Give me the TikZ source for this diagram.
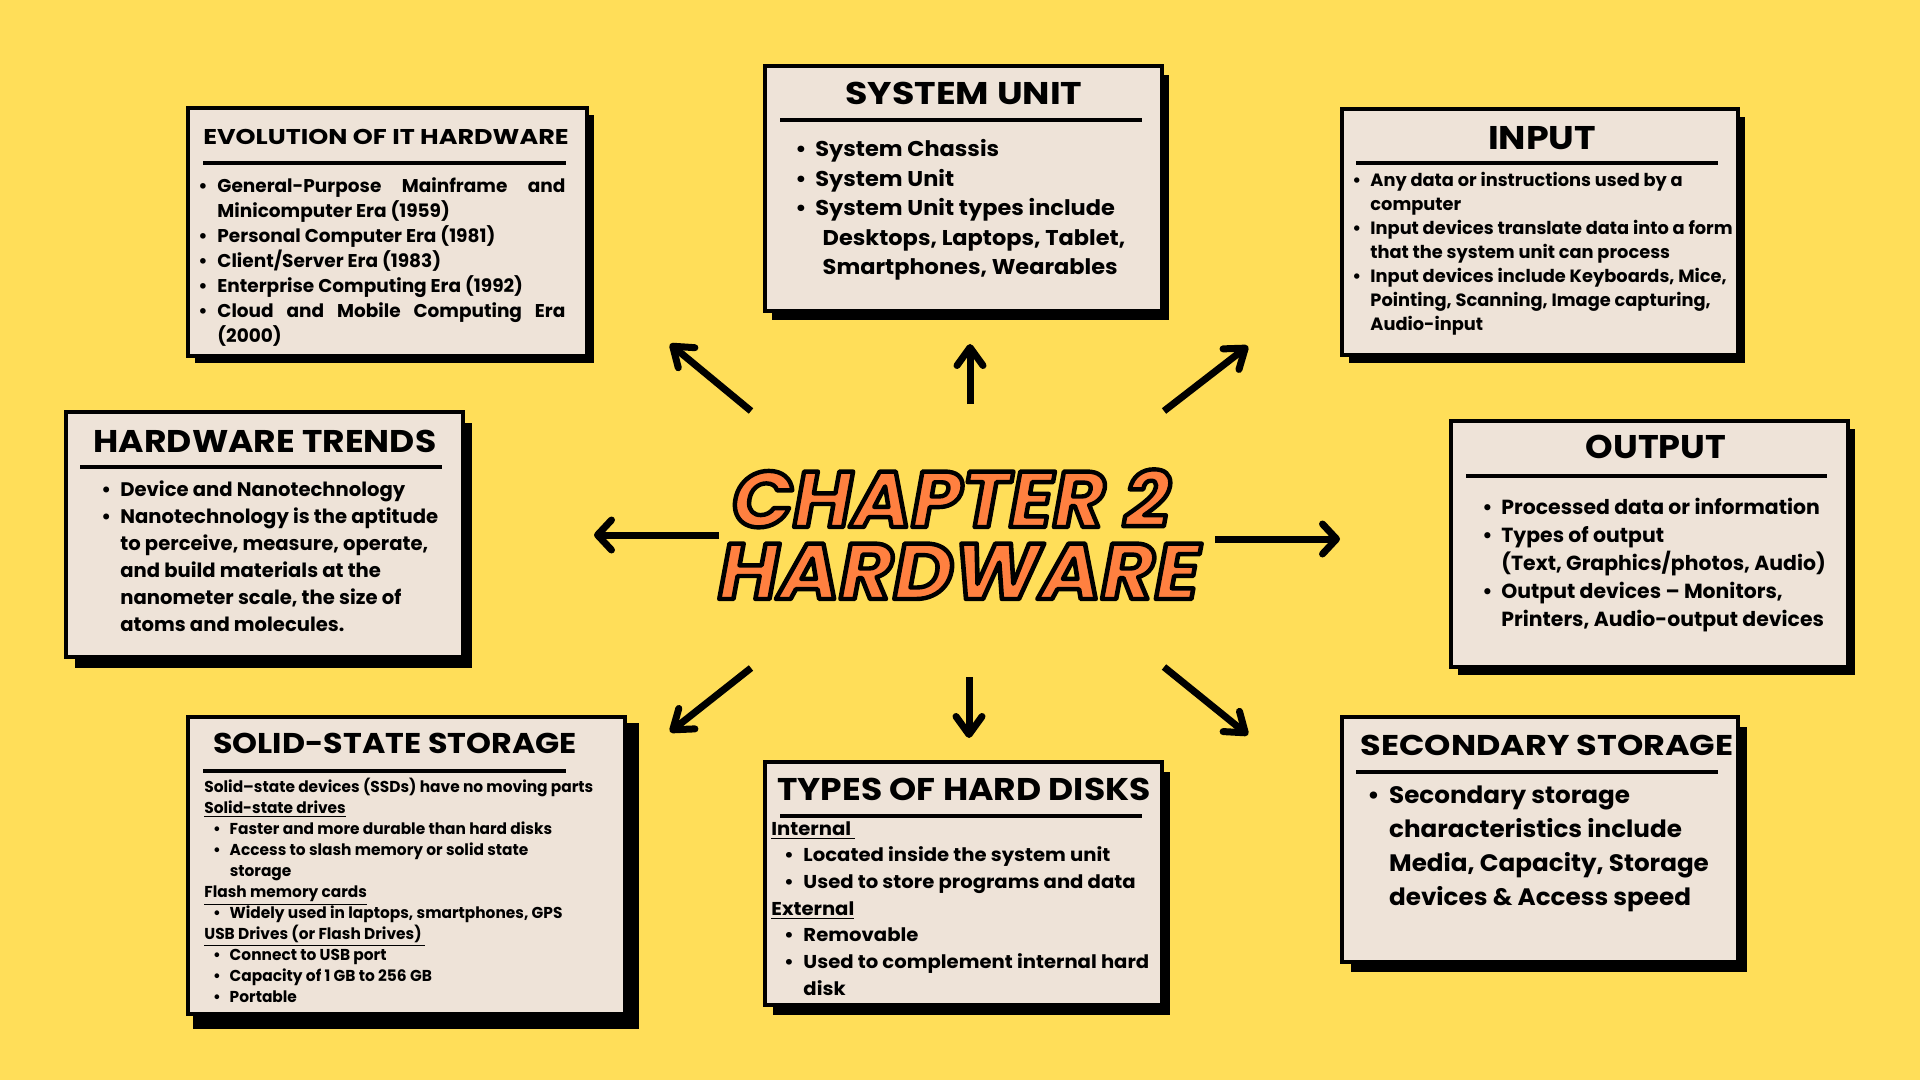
\documentclass[tikz,border=0pt]{standalone}
\usepackage{graphicx}
\usepackage{fontspec}
\setmainfont{Poppins}
\usetikzlibrary{arrows.meta,fit}

\definecolor{bgyellow}{RGB}{255,222,89}
\definecolor{panelfill}{RGB}{238,227,216}
\definecolor{titleorange}{RGB}{255,128,64}

% bullet item with hanging indent
\newcommand\bul[1]{\par\hangindent=#1\hangafter=1\noindent\makebox[#1][l]{\textbullet}}
% bullet item with the bullet pushed in by #1, text at #2
\newcommand\ibul[2]{\par\hangindent=#2\hangafter=1\noindent\makebox[#2][l]{\hspace*{#1}\textbullet}}
\newcommand\plainline{\par\hangindent=0pt\noindent}
% widen a piece of text horizontally only
\newcommand\wide[2]{\scalebox{#1}[1]{#2}}
% orange lettering with a black outline (fill + stroke text rendering)
\newcommand\outlined[1]{{\color{titleorange}%
  \special{pdf:literal direct 2 Tr 2.2 w 1 j 0 0 0 RG}#1\special{pdf:literal direct 0 Tr}}}

\tikzset{
  panel/.style={draw=black, line width=1.8pt, fill=panelfill, inner sep=0pt},
  panelshadow/.style={fill=black},
  ptitle/.style={anchor=base, inner sep=0pt},
  rule/.style={line width=1.8pt},
  body/.style={anchor=base west, inner sep=0pt},
  spoke/.style={line width=3.5pt, -{Straight Barb[length=9pt,width=13pt,round]}},
  spokeh/.style={line width=3.5pt, -{Straight Barb[length=7pt,width=15pt,round]}},
  chap/.style={anchor=base, inner sep=0pt, font=\fontsize{39.5}{40}\selectfont\bfseries\itshape},
}

\begin{document}
\begin{tikzpicture}[x=0.5pt, y=-0.5pt]
\fill[bgyellow] (0,0) rectangle (1920,1080);
\useasboundingbox (0,0) rectangle (1920,1080);

% ---------- panels: shadow, frame ----------
\fill[panelshadow] (195,115) rectangle (594,363);
\coordinate (evo-a) at (188,108); \coordinate (evo-b) at (587,356);
\node[panel, fit=(evo-a)(evo-b)] (evo) {};

\fill[panelshadow] (772,75) rectangle (1169,320);
\coordinate (sys-a) at (765,66); \coordinate (sys-b) at (1162,311);
\node[panel, fit=(sys-a)(sys-b)] (sys) {};

\fill[panelshadow] (1349,117) rectangle (1745,363);
\coordinate (inp-a) at (1342,109); \coordinate (inp-b) at (1738,355);
\node[panel, fit=(inp-a)(inp-b)] (inp) {};

\fill[panelshadow] (75,423) rectangle (472,668);
\coordinate (trd-a) at (66,412); \coordinate (trd-b) at (463,657);
\node[panel, fit=(trd-a)(trd-b)] (trd) {};

\fill[panelshadow] (1458,429) rectangle (1855,675);
\coordinate (out-a) at (1451,421); \coordinate (out-b) at (1848,667);
\node[panel, fit=(out-a)(out-b)] (out) {};

\fill[panelshadow] (193,723) rectangle (639,1029);
\coordinate (ssd-a) at (188,717); \coordinate (ssd-b) at (625,1014);
\node[panel, fit=(ssd-a)(ssd-b)] (ssd) {};

\fill[panelshadow] (773,772) rectangle (1170,1015);
\coordinate (hdd-a) at (765,762); \coordinate (hdd-b) at (1162,1005);
\node[panel, fit=(hdd-a)(hdd-b)] (hdd) {};

\fill[panelshadow] (1351,727) rectangle (1747,972);
\coordinate (sec-a) at (1342,717); \coordinate (sec-b) at (1738,962);
\node[panel, fit=(sec-a)(sec-b)] (sec) {};

% ---------- titles and rules ----------
\node[ptitle, font=\fontsize{10.7}{12}\selectfont\bfseries] (evo-t) at (386,145) {\wide{1.19}{EVOLUTION OF IT HARDWARE}};
\draw[rule] (203,163) -- (566,163);
\node[ptitle, font=\fontsize{15.7}{18}\selectfont\bfseries] (sys-t) at (964,105) {\wide{1.16}{SYSTEM UNIT}};
\draw[rule] (780,120) -- (1142,120);
\node[ptitle, font=\fontsize{16.4}{18}\selectfont\bfseries] (inp-t) at (1542,150) {\wide{1.11}{INPUT}};
\draw[rule] (1356,163) -- (1718,163);
\node[ptitle, font=\fontsize{15.7}{18}\selectfont\bfseries] (trd-t) at (265,452) {\wide{1.10}{HARDWARE TRENDS}};
\draw[rule] (80,467) -- (442,467);
\node[ptitle, font=\fontsize{16.4}{18}\selectfont\bfseries] (out-t) at (1656,458) {\wide{1.07}{OUTPUT}};
\draw[rule] (1466,476) -- (1827,476);
\node[ptitle, font=\fontsize{14.3}{16}\selectfont\bfseries] (ssd-t) at (395,753) {\wide{1.11}{SOLID-STATE STORAGE}};
\draw[rule] (203,771) -- (566,771);
\node[ptitle, font=\fontsize{15.7}{18}\selectfont\bfseries] (hdd-t) at (964,800) {\wide{1.10}{TYPES OF HARD DISKS}};
\draw[rule] (780,816) -- (1142,816);
\node[ptitle, font=\fontsize{14.3}{16}\selectfont\bfseries] (sec-t) at (1547,755) {\wide{1.17}{SECONDARY STORAGE}};
\draw[rule] (1356,772) -- (1718,772);

% ---------- panel texts ----------
\node[body] (evo-x) at (198,193) {\parbox[t]{183.5pt}{\fontsize{9.25}{12.5}\selectfont\bfseries
  \hyphenpenalty=10000 \exhyphenpenalty=10000
  \bul{9.5pt}General-Purpose Mainframe and\linebreak Minicomputer Era (1959)
  \bul{9.5pt}Personal Computer Era (1981)
  \bul{9.5pt}Client/Server Era (1983)
  \bul{9.5pt}Enterprise Computing Era (1992)
  \bul{9.5pt}Cloud and Mobile Computing Era\linebreak (2000)\par}};

\node[body] (sys-x) at (795,157) {\wide{1.05}{\parbox[t]{175pt}{\raggedright\fontsize{10.7}{14.75}\selectfont\bfseries
  \bul{9.5pt}System Chassis
  \bul{9.5pt}System Unit
  \bul{9.5pt}System Unit types include\newline\hspace*{3.5pt}Desktops, Laptops, Tablet,\newline\hspace*{3.5pt}Smartphones, Wearables\par}}};

\node[body] (inp-x) at (1352,187) {\parbox[t]{195pt}{\raggedright\fontsize{8.9}{12}\selectfont\bfseries
  \bul{9pt}Any data or instructions used by a\newline computer
  \bul{9pt}Input devices translate data into a form\newline that the system unit can process
  \bul{9pt}Input devices include Keyboards, Mice,\newline Pointing, Scanning, Image capturing,\newline Audio-input\par}};

\node[body] (trd-x) at (101,496) {\parbox[t]{190pt}{\raggedright\fontsize{9.8}{13.5}\selectfont\bfseries
  \bul{9.5pt}Device and Nanotechnology
  \bul{9.5pt}Nanotechnology is the aptitude\newline to perceive, measure, operate,\newline and build materials at the\newline nanometer scale, the size of\newline atoms and molecules.\par}};

\node[body] (out-x) at (1482,514) {\parbox[t]{190pt}{\raggedright\fontsize{10.2}{14}\selectfont\bfseries
  \bul{9.5pt}Processed data or information
  \bul{9.5pt}Types of output\newline (Text, Graphics/photos, Audio)
  \bul{9.5pt}Output devices – Monitors,\newline Printers, Audio-output devices\par}};

\node[body] (ssd-x) at (204,792) {\wide{0.975}{\parbox[t]{215pt}{\raggedright\fontsize{7.9}{10.5}\selectfont\bfseries
  \plainline Solid–state devices (SSDs) have no moving parts
  \plainline\underline{Solid-state drives}
  \ibul{4.5pt}{13pt}Faster and more durable than hard disks
  \ibul{4.5pt}{13pt}Access to slash memory or solid state\newline storage
  \plainline\underline{Flash memory cards}
  \ibul{4.5pt}{13pt}Widely used in laptops, smartphones, GPS
  \plainline\underline{USB Drives (or Flash Drives)\ }
  \ibul{4.5pt}{13pt}Connect to USB port
  \ibul{4.5pt}{13pt}Capacity of 1 GB to 256 GB
  \ibul{4.5pt}{13pt}Portable\par}}};

\node[body] (hdd-x) at (771,835) {\wide{1.055}{\parbox[t]{185pt}{\raggedright\fontsize{9.3}{13.35}\selectfont\bfseries
  \plainline\underline{Internal\ }
  \ibul{6pt}{15.2pt}Located inside the system unit
  \ibul{6pt}{15.2pt}Used to store programs and data
  \plainline\underline{External}
  \ibul{6pt}{15.2pt}Removable
  \ibul{6pt}{15.2pt}Used to complement internal hard\newline disk\par}}};

\node[body] (sec-x) at (1367,803) {\wide{1.035}{\parbox[t]{180pt}{\raggedright\fontsize{11.9}{17}\selectfont\bfseries
  \bul{10.5pt}Secondary storage\newline characteristics include\newline Media, Capacity, Storage\newline devices \& Access speed\par}}};

% ---------- central heading ----------
\node[chap] (chap1) at (951,527) {\wide{1.02}{\outlined{CHAPTER 2}}};
\node[chap] (chap2) at (959,599) {\wide{1.045}{\outlined{HARDWARE}}};

% ---------- spokes ----------
\coordinate (nw-s) at (751,411);  \coordinate (nw-e) at (670,344);
\coordinate (n-s)  at (970,404);  \coordinate (n-e)  at (970,344);
\coordinate (ne-s) at (1164,411); \coordinate (ne-e) at (1248,346);
\coordinate (sw-s) at (751,668);  \coordinate (sw-e) at (670,732);
\coordinate (s-s)  at (969,677);  \coordinate (s-e)  at (969,738);
\coordinate (se-s) at (1164,667); \coordinate (se-e) at (1248,735);
\coordinate (w-s)  at (719,535);  \coordinate (w-e)  at (594,535);
\coordinate (e-s)  at (1215,539); \coordinate (e-e)  at (1340,539);
\foreach \d in {nw,n,ne,sw,s,se} \draw[spoke] (\d-s) -- (\d-e);
\foreach \d in {w,e} \draw[spokeh] (\d-s) -- (\d-e);
\end{tikzpicture}
\end{document}
